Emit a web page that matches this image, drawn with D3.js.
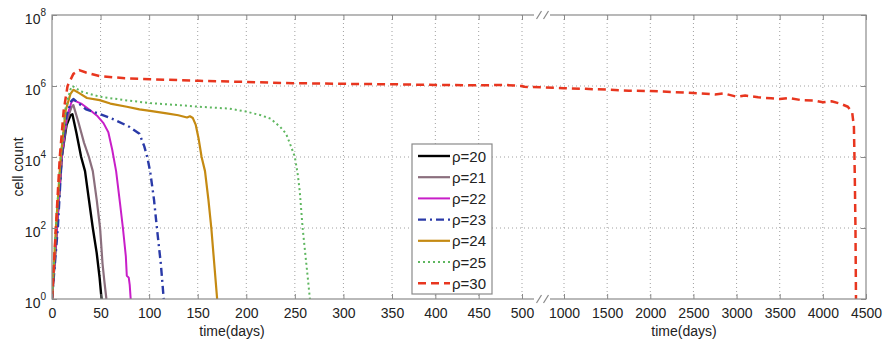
<!DOCTYPE html>
<html>
<head>
<meta charset="utf-8">
<script src="https://cdn.jsdelivr.net/npm/d3@7"></script>
<style>
    body { margin: 0; background: #fff; }
    svg text { font-family: "Liberation Sans", Arial, Helvetica, sans-serif; fill: #222; }
</style>
</head>
<body>
<div id="chart"></div>
<script>
// series labels
const rhoLabels = ["ρ=20", "ρ=21", "ρ=22", "ρ=23", "ρ=24", "ρ=25", "ρ=30"];

// [day, cell count]
const rho20 = [[0, 1], [5, 100], [10, 1e4], [15, 8e4], [19, 1.5e5], [21, 1.6e5], [25, 5e4], [30, 1e4],
    [34, 4e3], [38, 630], [42, 100], [46, 20], [49, 4], [51, 1]];
const rho21 = [[0, 1], [5, 100], [10, 1e4], [15, 1e5], [20, 2.5e5], [22, 2.9e5], [27, 1e5], [33, 2.5e4],
    [38, 1e4], [42, 4e3], [46, 630], [49.5, 100], [52, 10], [54, 3], [56, 1]];
const rho22 = [[0, 1], [5, 100], [10, 1e4], [15, 1.3e5], [20, 3.5e5], [22, 4e5], [30, 3.2e5], [40, 2e5],
    [47, 1.4e5], [53, 9e4], [58, 5e4], [62, 1.6e4], [66, 4e3], [70, 500], [73, 100], [76, 16], [77, 4.5],
    [79, 4], [80, 2.5], [81, 1]];
const rho23 = [[0, 1], [6, 100], [10, 1e4], [15, 1.5e5], [20, 3.8e5], [22, 4.3e5], [35, 2.2e5], [50, 1.6e5],
    [65, 1.1e5], [80, 7e4], [90, 4.5e4], [95, 2e4], [98, 1e4], [101, 4e3], [105, 630], [108, 100],
    [112, 10], [115, 1]];
const rho24 = [[0, 1], [4, 100], [9, 1e4], [14, 2e5], [19, 6e5], [22, 7.8e5], [28, 6.3e5], [36, 4.6e5],
    [49, 4e5], [60, 3.2e5], [77, 2.6e5], [90, 2.2e5], [101, 2e5], [118, 1.7e5], [130, 1.5e5], [139, 1.3e5],
    [142, 1.4e5], [145, 1.25e5], [148, 8e4], [151, 3.2e4], [154, 1e4], [157.5, 4e3], [161, 630],
    [164, 100], [167, 10], [170, 1]];
const rho25 = [[0, 1], [4, 100], [9, 1e4], [14, 2.5e5], [19, 8e5], [21, 1e6], [30, 7e5], [49, 5e5],
    [75, 4e5], [101, 3.3e5], [130, 2.9e5], [152, 2.6e5], [183, 2.3e5], [200, 1.9e5], [215, 1.5e5],
    [225, 1.2e5], [235, 7e4], [241, 4.5e4], [246, 2e4], [250, 1e4], [253, 3.2e3], [255, 1.1e3],
    [258, 100], [261, 16], [263.5, 3.5], [265.5, 1]];
const rho30 = [[0, 1], [4, 100], [8, 1e4], [12, 2e5], [16, 1e6], [22, 2.2e6], [28, 2.8e6], [35, 2.4e6],
    [49, 1.9e6], [75, 1.65e6], [101, 1.55e6], [152, 1.4e6], [200, 1.3e6], [248, 1.2e6], [300, 1.15e6],
    [350, 1.12e6], [400, 1.07e6], [450, 1.05e6], [480, 1.07e6], [500, 1e6], [525, 9.5e5],
    [1000, 8.7e5], [1250, 8.3e5], [1500, 7.9e5], [1750, 7.4e5], [2000, 7.2e5], [2250, 6.8e5],
    [2500, 6.3e5], [2750, 5.8e5], [2850, 6.2e5], [3000, 5e5], [3100, 5.4e5], [3250, 4.8e5],
    [3400, 4.5e5], [3500, 4.3e5], [3600, 4.6e5], [3750, 4e5], [3900, 3.9e5], [4000, 3.5e5],
    [4100, 3.7e5], [4200, 3.2e5], [4290, 2.6e5], [4340, 1.8e5], [4360, 7e4], [4370, 3e3],
    [4378, 100], [4384, 1]];

const seriesValues = [rho20, rho21, rho22, rho23, rho24, rho25, rho30];

// axis ticks
const xTicksLeft = [0, 50, 100, 150, 200, 250, 300, 350, 400, 450, 500];
const xTicksRight = [1000, 1500, 2000, 2500, 3000, 3500, 4000, 4500];
const yTicks = [1, 1e2, 1e4, 1e6, 1e8];
const yExponents = ["0", "2", "4", "6", "8"];

class CellCountChart {

    constructor(_config) {
        this.config = {
            parentElement: _config.parentElement,
            containerWidth: 887,
            containerHeight: 342,
            plot: {left: 52, right: 866, top: 15, bottom: 299},
        }
        this.styles = [
            {color: "#000000", width: 2.4, dash: null},
            {color: "#8b6f7d", width: 2.2, dash: null},
            {color: "#c81ec8", width: 2, dash: null},
            {color: "#2a3aa8", width: 2.4, dash: "8,4,2,4"},
            {color: "#c58a12", width: 2.2, dash: null},
            {color: "#5fb760", width: 2, dash: "2,3"},
            {color: "#e8361f", width: 2.5, dash: "8,5"},
        ];
        this.initVis();
    }

    initVis() {
        let vis = this;
        const p = vis.config.plot;

        // broken time axis: two linear pieces
        vis.xScale = d3.scaleLinear()
            .domain([0, 350, 500, 1000, 4500])
            .range([p.left, 392, 522, 564, p.right]);

        vis.yScale = d3.scaleLog()
            .domain([1, 1e8])
            .range([p.bottom, p.top]);

        vis.svg = d3.select(vis.config.parentElement).append("svg")
            .attr("width", vis.config.containerWidth)
            .attr("height", vis.config.containerHeight);

        vis.svg.append("defs").append("clipPath")
            .attr("id", "plot-clip")
            .append("rect")
            .attr("x", p.left).attr("y", p.top - 3)
            .attr("width", p.right - p.left).attr("height", p.bottom - p.top + 3);

        vis.gridG = vis.svg.append("g").attr("class", "grid");
        vis.lineG = vis.svg.append("g").attr("clip-path", "url(#plot-clip)");
        vis.axisG = vis.svg.append("g").attr("class", "axes");
        vis.legendG = vis.svg.append("g").attr("class", "legend");
    }

    renderVis() {
        let vis = this;
        const p = vis.config.plot;
        const xTicks = xTicksLeft.concat(xTicksRight);

        // dotted grid
        vis.gridG.selectAll(".vgrid")
            .data(xTicks.filter(d => d !== 0 && d !== 4500))
            .join("line")
            .attr("class", "vgrid")
            .attr("x1", d => vis.xScale(d)).attr("x2", d => vis.xScale(d))
            .attr("y1", p.top).attr("y2", p.bottom)
            .attr("stroke", "#a0a0a0").attr("stroke-width", 1).attr("stroke-dasharray", "1,3");

        vis.gridG.selectAll(".hgrid")
            .data(yTicks.slice(1, -1))
            .join("line")
            .attr("class", "hgrid")
            .attr("x1", p.left).attr("x2", p.right)
            .attr("y1", d => vis.yScale(d)).attr("y2", d => vis.yScale(d))
            .attr("stroke", "#a0a0a0").attr("stroke-width", 1).attr("stroke-dasharray", "1,3");

        // curves
        const line = d3.line()
            .x(d => vis.xScale(d[0]))
            .y(d => vis.yScale(d[1]));

        vis.lineG.selectAll(".curve")
            .data(seriesValues)
            .join("path")
            .attr("class", "curve")
            .attr("fill", "none")
            .attr("d", line)
            .attr("stroke", (d, i) => vis.styles[i].color)
            .attr("stroke-width", (d, i) => vis.styles[i].width)
            .attr("stroke-dasharray", (d, i) => vis.styles[i].dash)
            .attr("stroke-linejoin", "round");

        // axes with inward ticks
        const axisColor = "#8a8a8a";

        const xAxis = d3.axisBottom(vis.xScale).tickValues(xTicks)
            .tickSize(-5).tickSizeOuter(0).tickPadding(9).tickFormat(d3.format("d"));
        const xAxisG = vis.axisG.append("g")
            .attr("transform", `translate(0,${p.bottom})`)
            .call(xAxis);
        xAxisG.selectAll("text").style("font-size", "14px").attr("fill", "#222");

        const xAxisTop = d3.axisTop(vis.xScale).tickValues(xTicks)
            .tickSize(-5).tickSizeOuter(0).tickFormat("");
        vis.axisG.append("g")
            .attr("transform", `translate(0,${p.top})`)
            .call(xAxisTop);

        const yAxis = d3.axisLeft(vis.yScale).tickValues(yTicks)
            .tickSize(-5).tickSizeOuter(0).tickFormat("");
        const yAxisG = vis.axisG.append("g")
            .attr("transform", `translate(${p.left},0)`)
            .call(yAxis);

        const yAxisRight = d3.axisRight(vis.yScale).tickValues(yTicks)
            .tickSize(-5).tickSizeOuter(0).tickFormat("");
        vis.axisG.append("g")
            .attr("transform", `translate(${p.right},0)`)
            .call(yAxisRight);

        vis.axisG.selectAll(".domain").remove();
        vis.axisG.selectAll(".tick line").attr("stroke", axisColor);

        // power-of-ten labels
        yAxisG.selectAll(".tick").each(function (d, i) {
            const t = d3.select(this).append("text")
                .attr("x", -6).attr("y", 8)
                .attr("text-anchor", "end")
                .style("font-size", "14px")
                .attr("fill", "#222");
            t.append("tspan").text("10");
            t.append("tspan").attr("dy", -8).style("font-size", "10px").text(yExponents[i]);
        });

        // plot box
        vis.axisG.append("rect")
            .attr("x", p.left).attr("y", p.top)
            .attr("width", p.right - p.left).attr("height", p.bottom - p.top)
            .attr("fill", "none").attr("stroke", axisColor).attr("stroke-width", 1.2);

        // axis break marks
        [p.top, p.bottom].forEach(y => {
            vis.axisG.append("rect")
                .attr("x", 534).attr("y", y - 2)
                .attr("width", 16).attr("height", 4)
                .attr("fill", "#fff");
            [539, 546].forEach(x => {
                vis.axisG.append("line")
                    .attr("x1", x - 2.5).attr("y1", y + 4)
                    .attr("x2", x + 2.5).attr("y2", y - 4)
                    .attr("stroke", axisColor).attr("stroke-width", 1.2);
            });
        });

        // axis titles
        vis.svg.append("text")
            .attr("x", 232).attr("y", 336)
            .attr("text-anchor", "middle").style("font-size", "14px")
            .text("time(days)");
        vis.svg.append("text")
            .attr("x", 684).attr("y", 336)
            .attr("text-anchor", "middle").style("font-size", "14px")
            .text("time(days)");
        vis.svg.append("text")
            .attr("transform", "translate(23,167) rotate(-90)")
            .attr("text-anchor", "middle").style("font-size", "14px")
            .text("cell count");

        vis.renderLegend();
    }

    renderLegend() {
        let vis = this;

        vis.legendG.append("rect")
            .attr("x", 412).attr("y", 144)
            .attr("width", 80).attr("height", 150)
            .attr("fill", "#fff").attr("stroke", "#8a8a8a").attr("stroke-width", 1.2);

        const rows = vis.legendG.selectAll(".entry")
            .data(rhoLabels)
            .join("g")
            .attr("class", "entry")
            .attr("transform", (d, i) => `translate(0,${156 + i * 21.2})`);

        rows.append("line")
            .attr("x1", 418).attr("x2", 450)
            .attr("stroke", (d, i) => vis.styles[i].color)
            .attr("stroke-width", (d, i) => vis.styles[i].width)
            .attr("stroke-dasharray", (d, i) => vis.styles[i].dash);

        rows.append("text")
            .attr("x", 452).attr("y", 5.5)
            .style("font-size", "15px")
            .text(d => d);
    }
}

const chart = new CellCountChart({parentElement: "#chart"});
chart.renderVis();
</script>
</body>
</html>
